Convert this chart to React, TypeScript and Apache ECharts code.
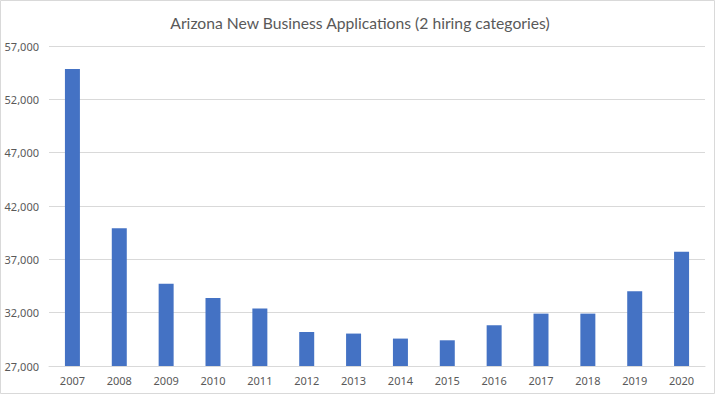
import React, { useEffect, useRef } from "react";
import * as echarts from "echarts";

const title = "Arizona New Business Applications (2 hiring categories)";
const years = ["2007", "2008", "2009", "2010", "2011", "2012", "2013", "2014", "2015", "2016", "2017", "2018", "2019", "2020"];
const applications = [54840, 39910, 34720, 33380, 32380, 30190, 30040, 29570, 29410, 30820, 31910, 31910, 34000, 37720];
const yMin = 27000;
const yMax = 57000;
const yStep = 5000;

export default function App() {
  const ref = useRef<HTMLDivElement>(null);
  useEffect(() => {
    document.body.style.margin = "0";
    const chart = echarts.init(ref.current!, null, { renderer: "svg" });
    const font = "'Noto Sans', 'Liberation Sans', sans-serif";
    chart.setOption({
      animation: false,
      backgroundColor: "#ffffff",
      title: {
        text: title,
        left: "center",
        top: 10,
        textStyle: { color: "#595959", fontSize: 15.7, fontWeight: "normal", fontFamily: "Lato, 'Noto Sans', sans-serif" },
      },
      grid: { left: 49, right: 15, top: 46, bottom: 30, containLabel: false },
      xAxis: {
        type: "category",
        data: years,
        axisLine: { show: true, lineStyle: { color: "#d9d9d9" } },
        axisTick: { show: false },
        axisLabel: { color: "#595959", fontSize: 11, fontFamily: font, margin: 9 },
      },
      yAxis: {
        type: "value",
        min: yMin,
        max: yMax,
        interval: yStep,
        axisLine: { show: false },
        axisTick: { show: false },
        splitLine: { lineStyle: { color: "#d9d9d9" } },
        axisLabel: {
          color: "#595959",
          fontSize: 11,
          fontFamily: font,
          margin: 10,
          formatter: (v: number) => v.toLocaleString("en-US"),
        },
      },
      series: [
        {
          type: "bar",
          data: applications,
          barWidth: "32%",
          itemStyle: { color: "#4472c4" },
        },
      ],
      graphic: [
        {
          type: "rect",
          shape: { x: 0.5, y: 0.5, width: 714, height: 393 },
          style: { fill: "none", stroke: "#d9d9d9", lineWidth: 1 },
          silent: true,
        },
      ],
    });
    return () => chart.dispose();
  }, []);
  return <div ref={ref} style={{ width: 720, height: 396 }} />;
}
